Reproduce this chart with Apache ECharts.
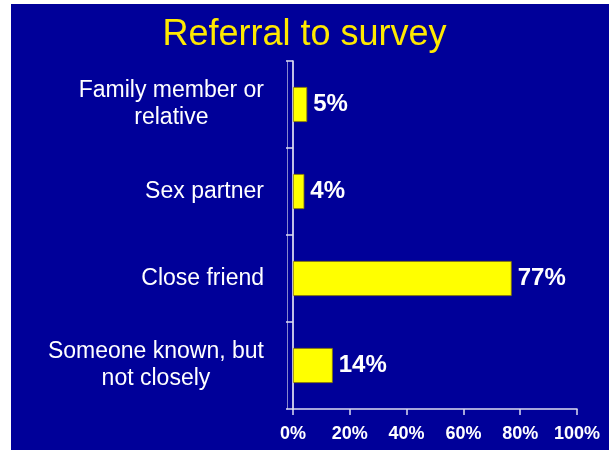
<!DOCTYPE html>
<html>
<head>
<meta charset="utf-8">
<script src="https://cdn.jsdelivr.net/npm/echarts@6/dist/echarts.min.js"></script>
<style>
  html, body { margin: 0; padding: 0; background: #ffffff; }
  #chart { width: 609px; height: 450px; }
</style>
</head>
<body>
<div id="chart"></div>
<script>
const titleText = 'Referral to survey';
const categories = ['Family member or\nrelative', 'Sex partner', 'Close friend', 'Someone known, but\nnot closely'];
const values = [5, 4, 77, 14];
const xTicks = [0, 20, 40, 60, 80, 100];

const FONT = "'Liberation Sans', Arial, sans-serif";
const chart = echarts.init(document.getElementById('chart'), null, { renderer: 'canvas' });

chart.setOption({
  backgroundColor: '#ffffff',
  animation: false,
  graphic: [{
    type: 'rect', z: -10, silent: true,
    shape: { x: 11, y: 4, width: 598, height: 446 },
    style: { fill: '#000099' }
  }],
  title: {
    text: titleText,
    left: 'center',
    top: 12,
    textStyle: { color: '#FFE900', fontSize: 36, fontWeight: 'normal', fontFamily: FONT }
  },
  grid: { left: 293, right: 32, top: 61, bottom: 41, containLabel: false },
  xAxis: {
    type: 'value',
    min: xTicks[0],
    max: xTicks[xTicks.length - 1],
    interval: 20,
    axisLine: { show: true, lineStyle: { color: '#dcdcf0', width: 1.5 } },
    axisTick: { show: true, length: 6, lineStyle: { color: '#dcdcf0', width: 1.5 } },
    splitLine: { show: false },
    axisLabel: {
      margin: 16,
      color: '#ffffff', fontSize: 18, fontWeight: 'bold', fontFamily: FONT,
      formatter: v => v + '%'
    }
  },
  yAxis: [{
    type: 'category',
    data: categories,
    inverse: true,
    axisLine: { show: true, lineStyle: { color: '#ffffff', width: 1.5 } },
    axisTick: { show: true, length: 7, lineStyle: { color: '#dcdcf0', width: 1.5 } },
    axisLabel: {
      margin: 29,
      align: 'right',
      color: '#ffffff', fontSize: 23, fontFamily: FONT, lineHeight: 27,
      formatter: v => v.split('\n').map(l => '{c|' + l + '}').join('\n'),
      rich: { c: { align: 'center', color: '#ffffff', fontSize: 23, fontFamily: FONT, lineHeight: 27 } }
    }
  }, {
    type: 'category',
    data: categories,
    inverse: true,
    position: 'left',
    offset: 6,
    axisLine: { show: true, lineStyle: { color: '#8888cc', width: 1 } },
    axisTick: { show: false },
    axisLabel: { show: false }
  }],
  series: [{
    type: 'bar',
    data: values,
    barWidth: 35,
    itemStyle: { color: '#FFFF00', borderColor: '#8a7a00', borderWidth: 0.8 },
    label: {
      show: true,
      position: 'right',
      distance: 6,
      color: '#ffffff', fontSize: 24, fontWeight: 'bold', fontFamily: FONT,
      formatter: p => p.value + '%'
    }
  }]
});
</script>
</body>
</html>
